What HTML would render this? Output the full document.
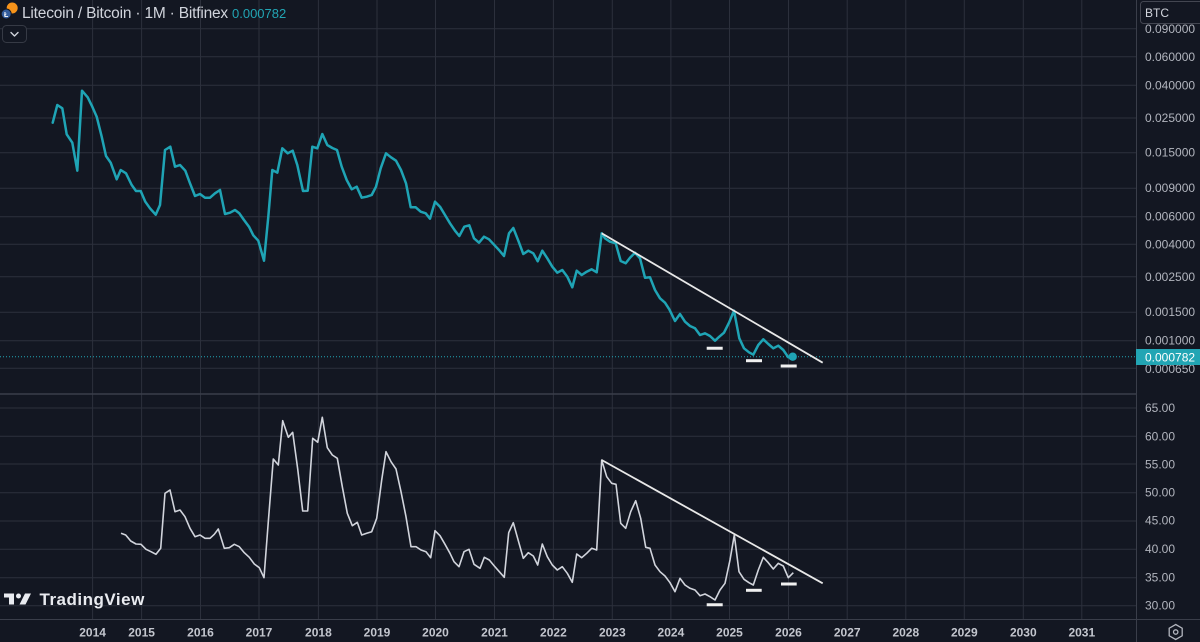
<!DOCTYPE html>
<html>
<head>
<meta charset="utf-8">
<style>
html,body{margin:0;padding:0;background:#131722;}
body{width:1200px;height:642px;overflow:hidden;}
svg{display:block;font-family:"Liberation Sans",sans-serif;}
</style>
</head>
<body>
<svg width="1200" height="642" viewBox="0 0 1200 642" xmlns="http://www.w3.org/2000/svg">
<rect x="0" y="0" width="1200" height="642" fill="#131722"/>

<!-- vertical grid -->
<g stroke="#2c303c" stroke-width="1">
<line x1="92.6" y1="0" x2="92.6" y2="619"/>
<line x1="141.6" y1="0" x2="141.6" y2="619"/>
<line x1="200.5" y1="0" x2="200.5" y2="619"/>
<line x1="259" y1="0" x2="259" y2="619"/>
<line x1="318.4" y1="0" x2="318.4" y2="619"/>
<line x1="377" y1="0" x2="377" y2="619"/>
<line x1="435.5" y1="0" x2="435.5" y2="619"/>
<line x1="494.5" y1="0" x2="494.5" y2="619"/>
<line x1="553.4" y1="0" x2="553.4" y2="619"/>
<line x1="612.3" y1="0" x2="612.3" y2="619"/>
<line x1="670.9" y1="0" x2="670.9" y2="619"/>
<line x1="729.5" y1="0" x2="729.5" y2="619"/>
<line x1="788.5" y1="0" x2="788.5" y2="619"/>
<line x1="847.2" y1="0" x2="847.2" y2="619"/>
<line x1="905.8" y1="0" x2="905.8" y2="619"/>
<line x1="964.3" y1="0" x2="964.3" y2="619"/>
<line x1="1023.3" y1="0" x2="1023.3" y2="619"/>
<line x1="1081.8" y1="0" x2="1081.8" y2="619"/>
</g>
<!-- horizontal grid top -->
<g stroke="#2c303c" stroke-width="1">
<line x1="0" y1="28.7" x2="1136" y2="28.7"/>
<line x1="0" y1="56.7" x2="1136" y2="56.7"/>
<line x1="0" y1="85.3" x2="1136" y2="85.3"/>
<line x1="0" y1="118" x2="1136" y2="118"/>
<line x1="0" y1="152.7" x2="1136" y2="152.7"/>
<line x1="0" y1="188.3" x2="1136" y2="188.3"/>
<line x1="0" y1="216.7" x2="1136" y2="216.7"/>
<line x1="0" y1="244.3" x2="1136" y2="244.3"/>
<line x1="0" y1="276.7" x2="1136" y2="276.7"/>
<line x1="0" y1="312.3" x2="1136" y2="312.3"/>
<line x1="0" y1="340.7" x2="1136" y2="340.7"/>
<line x1="0" y1="368.3" x2="1136" y2="368.3"/>
</g>
<!-- horizontal grid bottom -->
<g stroke="#2c303c" stroke-width="1">
<line x1="0" y1="408" x2="1136" y2="408"/>
<line x1="0" y1="436.3" x2="1136" y2="436.3"/>
<line x1="0" y1="464" x2="1136" y2="464"/>
<line x1="0" y1="492.7" x2="1136" y2="492.7"/>
<line x1="0" y1="521" x2="1136" y2="521"/>
<line x1="0" y1="549.3" x2="1136" y2="549.3"/>
<line x1="0" y1="577.7" x2="1136" y2="577.7"/>
<line x1="0" y1="605.7" x2="1136" y2="605.7"/>
</g>

<!-- separators -->
<line x1="0" y1="394" x2="1136" y2="394" stroke="#3a3e4a" stroke-width="1.5"/>
<line x1="0" y1="619.5" x2="1200" y2="619.5" stroke="#3a3e4a" stroke-width="1"/>
<line x1="1136.5" y1="0" x2="1136.5" y2="642" stroke="#3a3e4a" stroke-width="1"/>

<!-- current price dotted line -->
<line x1="0" y1="356.7" x2="1136" y2="356.7" stroke="#22a6b5" stroke-width="1" stroke-dasharray="1,2"/>

<!-- top series -->
<polyline fill="none" stroke="#1fa4b5" stroke-width="2.5" stroke-linejoin="round" stroke-linecap="round" points="52.7,122.7 57.3,105 62.3,108.3 66.7,134.3 72.3,142.7 77.3,170.7 82,90.7 87.7,97.3 92.3,106.7 96.7,116.7 101.7,136.7 106,156 110.7,162.7 116.7,179.3 120.7,170 126,173.3 131.7,185 136,191 140.7,191 145.3,201.7 150,208.3 155.7,214.7 160,205 165,150 170.3,146.7 175,166.7 180,165 185.3,170.7 190,183.3 195,196 200,194 205,197.7 210,197.7 215,193.3 220,190 225,214 230,212.7 235,210 239.3,213.3 244,220 249,226.7 253.3,235.3 258.3,240.7 264,260.7 268.3,216.7 272.3,170 277.3,172.7 282.3,148.3 287.7,153.3 292.7,150.7 297.3,165 303,191 307.7,190.7 312.3,146.7 317.3,148.3 322.3,134 327.3,145 332.3,148 337,150 341.7,166.7 346.7,180 351.7,189.3 356.7,186.7 361.7,197.7 366.7,196.7 371.7,195 376,186.7 380.7,168.3 386,153.3 391,157.3 396,160.7 401,170 406,183.3 410.7,207.3 415.7,207.3 420.7,211.7 425.7,213.3 430,218.7 435,201.7 440,206.7 445,215 450,223.3 455,230.7 459.3,236 464.3,226.7 469.3,225.3 474,238.3 479,242.7 484,236.7 489,239.3 494,244.7 499,250 504,256 509,233.3 513.3,228 518.3,240.7 523.3,254 528.3,250.7 533.3,253.3 537.7,261.3 542.3,250.7 547.3,258.3 552.3,266.7 557.3,272.7 562.3,270 567.3,276.7 572.3,287.3 576.7,270.7 581.7,275 586.7,271.7 591.7,269.3 596.7,272.3 601.7,233.3 605,238.3 610,241.7 615.7,243.3 620.7,261 625.7,263.3 630,257.7 635,252.7 640,258.3 645,277.7 650,277.3 655,290 660,298.3 665,302.7 669.3,309.3 675,321 680,314 685,321.7 690,326 695,328.3 700,335 705,333.3 710,336 715,340.7 719.3,336.7 724,332.7 729,322.7 734,310.7 739.3,338.3 744,348.3 749,352.3 753.3,354.7 758.3,345 763.3,339.3 768.3,344 773.3,348.3 778.3,345.7 783.3,350 788.3,357.3 792.7,356.7"/>
<line x1="601.7" y1="233.3" x2="822.7" y2="362.7" stroke="#e8e8e8" stroke-width="1.8"/>
<g stroke="#f0f0f0" stroke-width="3">
<line x1="706.7" y1="348.3" x2="722.7" y2="348.3"/>
<line x1="746" y1="360.7" x2="762" y2="360.7"/>
<line x1="780.7" y1="366" x2="796.7" y2="366"/>
</g>
<circle cx="792.7" cy="356.7" r="4.2" fill="#1fa4b5"/>

<!-- bottom series -->
<polyline fill="none" stroke="#d1d4dc" stroke-width="1.6" stroke-linejoin="round" points="121,533.3 125.7,535 130.7,541 136,544 141,544.3 146,549.3 151,551.7 156,554.3 160.7,548.3 165,493.3 170,490 175,511.7 180,510 185,516.7 190,528.3 195,536.7 200,535 205,538.3 210,538.3 214.3,534.3 218.3,529 224.3,548.3 229.3,547.7 234.3,544.3 239.3,546.7 244.3,552.7 249.3,557.3 254.3,564 259.3,567.7 264,577.7 268.3,521.7 273.3,459 278.3,465 282.7,420.7 288.3,437.3 292.7,432.3 297.7,469 302.7,511 307.7,511 312.7,438.3 317.7,442.3 322.3,417.3 327.3,447.7 332.3,455 337.3,458.3 342.3,486.7 347.3,513.3 352.3,525.7 357.3,522.3 361.7,535 366.7,533.3 371.7,531.7 376.7,518.3 381.7,480 386,451.7 391,461.7 396,469 401,491.7 406,516.7 411,546.7 416,546.7 421,550 426,551.7 430.7,557.7 435,530.7 440,535.7 445,544.3 450,553.3 454,561.7 459,566.7 464,551.7 469,549.3 474,564.3 480,568.3 484.3,557.3 489.3,560 494.3,566 499.3,571.7 504.3,577.3 508.7,532.7 513.3,522.7 518.3,540.7 523.3,558.3 528.3,552.7 533.3,556 537.7,565 542.3,544 547.3,556.7 552.3,565 557.3,570 562.3,566.7 567.3,573.3 572.3,582.3 576.7,554 581.7,557.7 586.7,553.3 591.7,548.3 596.7,550 601.7,460 606.7,476.7 611.7,483.3 616,484.3 620.7,523.3 625.7,528.3 630.7,511.7 635.7,500.7 640.7,518.3 645.7,547.3 650,548.3 655,565 660,571.7 665,576 670,582.7 675,591.7 680,578.3 685,585 690,588.3 695,590 700,595.7 705,594 710,596.7 715,600 720,590 725,583.3 730,560 734.3,535 739,571.7 744,579.3 749,582.7 753.3,585 758.3,570 763.3,557.3 768.3,562.7 773.3,569 778.3,563.3 783.3,566 788.3,577.7 793.3,572.7"/>
<line x1="601.7" y1="460" x2="822.7" y2="583.3" stroke="#e8e8e8" stroke-width="1.8"/>
<g stroke="#f0f0f0" stroke-width="3">
<line x1="706.7" y1="604.7" x2="722.7" y2="604.7"/>
<line x1="746" y1="590.3" x2="761.7" y2="590.3"/>
<line x1="781" y1="584" x2="796.7" y2="584"/>
</g>

<!-- right axis labels top -->
<g fill="#b2b5be" font-size="12">
<text x="1145" y="33">0.090000</text>
<text x="1145" y="61">0.060000</text>
<text x="1145" y="89.5">0.040000</text>
<text x="1145" y="122">0.025000</text>
<text x="1145" y="156.5">0.015000</text>
<text x="1145" y="192">0.009000</text>
<text x="1145" y="220.5">0.006000</text>
<text x="1145" y="248.5">0.004000</text>
<text x="1145" y="281">0.002500</text>
<text x="1145" y="316">0.001500</text>
<text x="1145" y="344.5">0.001000</text>
<text x="1145" y="373">0.000650</text>
</g>
<!-- BTC box -->
<rect x="1140.5" y="1.5" width="64" height="22" rx="3" fill="#131722" stroke="#434651" stroke-width="1"/>
<text x="1145" y="17" fill="#d1d4dc" font-size="12">BTC</text>
<!-- price label -->
<rect x="1136" y="349" width="64" height="16" fill="#22a5b4"/>
<text x="1145" y="361.3" fill="#ffffff" font-size="12">0.000782</text>

<!-- right axis labels bottom -->
<g fill="#b2b5be" font-size="12">
<text x="1145" y="412">65.00</text>
<text x="1145" y="440.5">60.00</text>
<text x="1145" y="468.5">55.00</text>
<text x="1145" y="496.5">50.00</text>
<text x="1145" y="524.5">45.00</text>
<text x="1145" y="553">40.00</text>
<text x="1145" y="581.5">35.00</text>
<text x="1145" y="609.5">30.00</text>
</g>

<!-- time axis -->
<g fill="#c3c6ce" font-size="12" font-weight="bold" text-anchor="middle">
<text x="92.6" y="636.5">2014</text>
<text x="141.6" y="636.5">2015</text>
<text x="200.5" y="636.5">2016</text>
<text x="259" y="636.5">2017</text>
<text x="318.4" y="636.5">2018</text>
<text x="377" y="636.5">2019</text>
<text x="435.5" y="636.5">2020</text>
<text x="494.5" y="636.5">2021</text>
<text x="553.4" y="636.5">2022</text>
<text x="612.3" y="636.5">2023</text>
<text x="670.9" y="636.5">2024</text>
<text x="729.5" y="636.5">2025</text>
<text x="788.5" y="636.5">2026</text>
<text x="847.2" y="636.5">2027</text>
<text x="905.8" y="636.5">2028</text>
<text x="964.3" y="636.5">2029</text>
<text x="1023.3" y="636.5">2030</text>
<text x="1081.8" y="636.5">2031</text>
</g>

<!-- gear icon -->
<polygon points="1175.7,624.5 1182.2,628.2 1182.2,635.8 1175.7,639.5 1169.2,635.8 1169.2,628.2" fill="none" stroke="#b2b5be" stroke-width="1.3"/>
<circle cx="1175.7" cy="632" r="2.2" fill="none" stroke="#b2b5be" stroke-width="1.3"/>

<!-- header -->
<rect x="0" y="0" width="300" height="23" fill="#131722" opacity="0.0"/>
<circle cx="12.2" cy="8" r="5.5" fill="#f7931a"/>
<circle cx="6.2" cy="14" r="5" fill="#345d9d" stroke="#131722" stroke-width="1"/>
<text x="6.2" y="17" fill="#ffffff" font-size="7" font-weight="bold" text-anchor="middle">Ł</text>
<text x="22" y="18" fill="#d1d4dc" font-size="15.5" letter-spacing="-0.2">Litecoin / Bitcoin · 1M · Bitfinex</text>
<text x="232" y="18" fill="#22a5b4" font-size="13">0.000782</text>

<!-- collapse button -->
<rect x="2.5" y="25.5" width="24" height="17" rx="4" fill="#131722" stroke="#363a45" stroke-width="1"/>
<path d="M11,32.5 L14.5,36 L18,32.5" fill="none" stroke="#d1d4dc" stroke-width="1.4" stroke-linecap="round" stroke-linejoin="round"/>

<!-- TradingView logo -->
<g fill="#e9ebf0">
<rect x="4" y="593.5" width="10" height="4"/>
<rect x="9" y="593.5" width="5" height="11"/>
<circle cx="18.5" cy="596" r="2.5"/>
<polygon points="25,593.5 31,593.5 25.5,604.5 19.5,604.5"/>
</g>
<text x="39.5" y="605" fill="#e9ebf0" font-size="17" font-weight="bold" letter-spacing="0.5">TradingView</text>
</svg>
</body>
</html>
